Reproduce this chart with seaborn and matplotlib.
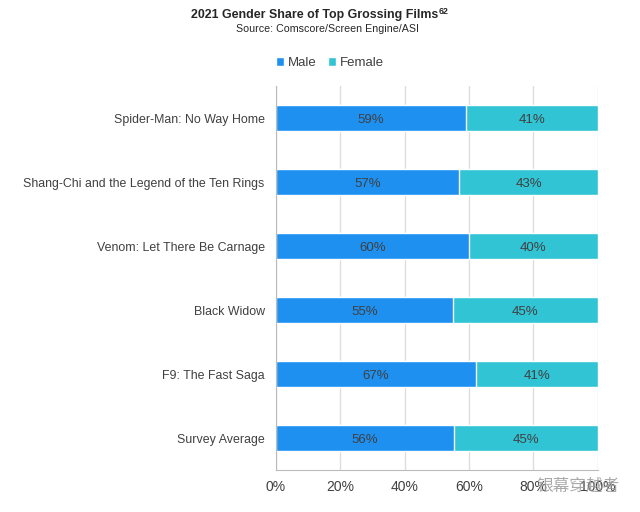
import numpy as np
import pandas as pd
import matplotlib
matplotlib.use("Agg")
import matplotlib.pyplot as plt
import seaborn as sns

films = [
    "Spider-Man: No Way Home",
    "Shang-Chi and the Legend of the Ten Rings",
    "Venom: Let There Be Carnage",
    "Black Widow",
    "F9: The Fast Saga",
    "Survey Average",
]
male = [59, 57, 60, 55, 67, 56]
female = [41, 43, 40, 45, 41, 45]

MALE_COLOR = "#1e90f0"
FEMALE_COLOR = "#31c4d4"
TEXT_COLOR = "#404040"

sns.set_style("white")
plt.rcParams["font.family"] = ["Liberation Sans", "Noto Sans CJK SC", "DejaVu Sans"]

df = pd.DataFrame({"film": films, "male": male, "female": female})
df["total"] = df["male"] + df["female"]
df["male_share"] = df["male"] / df["total"] * 100
df["full"] = 100.0

fig = plt.figure(figsize=(6.4, 5.12), dpi=100)
ax = fig.add_axes([0.431, 0.082, 0.503, 0.75])

# female fills to 100%, male drawn over it
sns.barplot(data=df, x="full", y="film", orient="h", color=FEMALE_COLOR,
            width=0.4, saturation=1, ax=ax, label="Female")
sns.barplot(data=df, x="male_share", y="film", orient="h", color=MALE_COLOR,
            width=0.4, saturation=1, ax=ax, label="Male")

for i, row in df.iterrows():
    ax.text(row["male_share"] / 2, i, f"{row['male']}%", ha="center",
            va="center_baseline", fontsize=9.5, color=TEXT_COLOR)
    ax.text((row["male_share"] + 100) / 2, i, f"{row['female']}%", ha="center",
            va="center_baseline", fontsize=9.5, color=TEXT_COLOR)

ax.set_xlim(0, 100)
ax.set_ylim(len(films) - 0.5, -0.5)
ax.set_xticks(np.arange(0, 101, 20))
ax.set_xticklabels([f"{v}%" for v in range(0, 101, 20)], fontsize=10, color=TEXT_COLOR)
ax.set_xlabel("")
ax.set_ylabel("")
ax.tick_params(axis="y", length=0, labelsize=8.9, labelcolor=TEXT_COLOR, pad=8)
ax.set_yticks(np.arange(len(films)) - 0.5, minor=True)
ax.tick_params(axis="y", which="minor", length=4, color="#bbbbbb")
ax.tick_params(axis="x", length=4, color="#bbbbbb")
ax.grid(axis="x", color="#dddddd", linewidth=1)
ax.set_axisbelow(True)
for side in ["top", "right"]:
    ax.spines[side].set_visible(False)
for side in ["left", "bottom"]:
    ax.spines[side].set_color("#bbbbbb")

handles, labels = ax.get_legend_handles_labels()
order = [labels.index("Male"), labels.index("Female")]
ax.legend([handles[k] for k in order], ["Male", "Female"], loc="center",
          bbox_to_anchor=(330 / 640, 1 - 63 / 512), bbox_transform=fig.transFigure,
          ncol=2, frameon=False, fontsize=9.5, handlelength=0.6, handleheight=0.6,
          handletextpad=0.25, columnspacing=0.9, labelcolor=TEXT_COLOR)

fig.text(438 / 640, 1 - 15 / 512, "2021 Gender Share of Top Grossing Films",
         ha="right", va="center", fontsize=8.9, fontweight="bold")
fig.text(439 / 640, 1 - 11 / 512, "62", ha="left", va="center",
         fontsize=6.3, fontweight="bold")
fig.text(327 / 640, 1 - 29 / 512, "Source: Comscore/Screen Engine/ASI",
         ha="center", va="center", fontsize=7.7)
fig.text(578 / 640, 1 - 486 / 512, "银幕穿越者", ha="center", va="center",
         fontsize=12, color="#9a9a9a", alpha=0.85,
         family=["Noto Sans CJK SC", "DejaVu Sans"])

fig.savefig("out.png", dpi=100)
plt.close(fig)
